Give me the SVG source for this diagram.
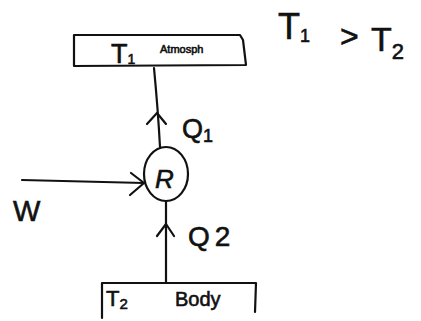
<svg xmlns="http://www.w3.org/2000/svg" width="421" height="321" viewBox="0 0 421 321">
<style>
.s{fill:none;stroke:#111;stroke-width:2.2;stroke-linecap:round;stroke-linejoin:round}
.t{font-family:"Liberation Sans",Arial,sans-serif;fill:#111;stroke:#111;stroke-width:0.6}
</style>
<rect width="421" height="321" fill="#fff"/>
<g id="atmosphere">
<path class="s" d="M74 35 L240 35 L243 40 L246 65 L74 66 Z"/>
<text class="t" x="111" y="63" font-size="27">T<tspan font-size="14" dy="1">1</tspan></text>
<text class="t" x="160" y="53" font-size="11" stroke-width="0.3">Atmosph</text>
</g>
<g id="reservoir">
<ellipse class="s" cx="166" cy="174" rx="22" ry="27"/>
<text class="t" x="155" y="188" font-size="26" font-style="italic">R</text>
</g>
<g id="body">
<path class="s" d="M102 283 L256 283 L255 312 M102 283 L102 318"/>
<text class="t" x="106" y="306" font-size="22">T<tspan font-size="15" dy="3">2</tspan></text>
<text class="t" x="175" y="306" font-size="20" stroke-width="0.3">Body</text>
</g>
<g id="labels">
<text class="t" x="182" y="138" font-size="27">Q<tspan font-size="18" dy="4">1</tspan></text>
<text class="t" x="188" y="246" font-size="28">Q<tspan dx="5">2</tspan></text>
<text class="t" x="13" y="221" font-size="29">W</text>
<text class="t" x="278" y="39" font-size="36">T<tspan font-size="18" dy="3">1</tspan></text>
<text class="t" x="340" y="47" font-size="32">&gt;</text>
<text class="t" x="371" y="51" font-size="34">T<tspan font-size="22" dy="8">2</tspan></text>
</g>
<g id="connectors">
<path class="s" d="M154 68 Q158 110 160 147"/>
<path class="s" d="M147 124 L157 113 L166 124"/>
<path class="s" d="M22 180 L144 183"/>
<path class="s" d="M131 173 L144 183 L130 195"/>
<path class="s" d="M166 201 L166 282"/>
<path class="s" d="M157 236 L166 224 L174 236"/>
</g>
</svg>
